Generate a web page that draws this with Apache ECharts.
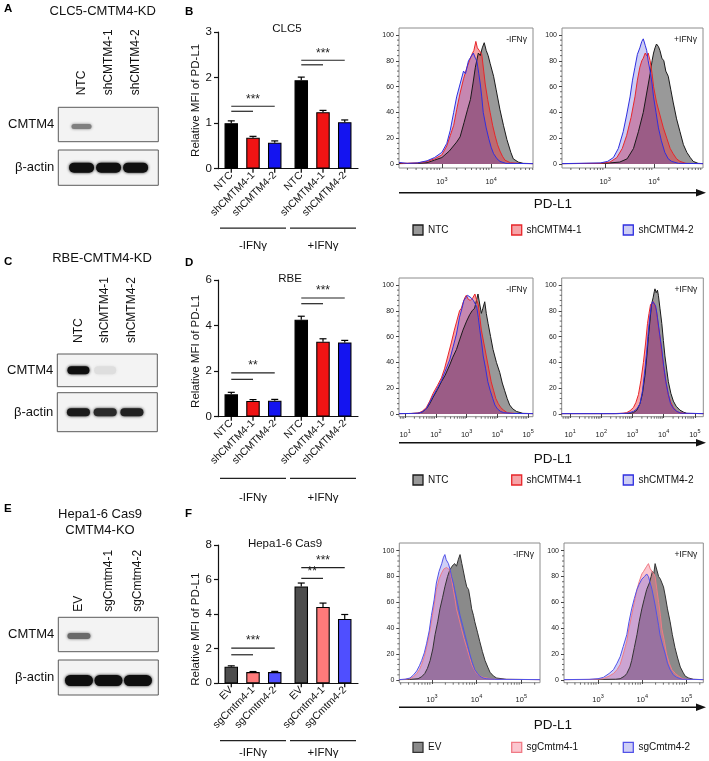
<!DOCTYPE html>
<html><head><meta charset="utf-8">
<script src="https://cdn.jsdelivr.net/npm/echarts@6/dist/echarts.min.js"></script>
<style>html,body{margin:0;padding:0;background:#fff}#c{width:709px;height:761px}</style>
</head><body><div id="c"></div>
<script>
const FONT = "'Liberation Sans', Arial, Helvetica, sans-serif";

// ---------------- DATA ----------------
const lanesKD = ['NTC', 'shCMTM4-1', 'shCMTM4-2'];
const lanesKO = ['EV', 'sgCmtm4-1', 'sgCmtm4-2'];
// western blot band intensities (0 = no band, 1 = saturated)
const blotA_CMTM4 = [0.5, 0, 0];
const blotA_actin = [1, 1, 1];
const blotC_CMTM4 = [1, 0.08, 0];
const blotC_actin = [0.95, 0.88, 0.92];
const blotE_CMTM4 = [0.6, 0, 0];
const blotE_actin = [1, 1, 1];

const conditions = ['-IFNγ', '+IFNγ'];
// bar charts: relative MFI of PD-L1 (mean, SEM) per condition
const barB_NTC = [1.00, 1.94], errB_NTC = [0.05, 0.07];
const barB_sh1 = [0.68, 1.24], errB_sh1 = [0.03, 0.04];
const barB_sh2 = [0.57, 1.02], errB_sh2 = [0.04, 0.05];
const barD_NTC = [0.98, 4.26], errD_NTC = [0.09, 0.15];
const barD_sh1 = [0.69, 3.29], errD_sh1 = [0.06, 0.13];
const barD_sh2 = [0.70, 3.26], errD_sh2 = [0.06, 0.09];
const barF_EV  = [0.96, 5.60], errF_EV  = [0.05, 0.20];
const barF_sg1 = [0.65, 4.42], errF_sg1 = [0.03, 0.22];
const barF_sg2 = [0.65, 3.72], errF_sg2 = [0.04, 0.26];
// significance brackets: [condition, fromBar, toBar, height, text]
const sigB = [[0, 0, 2, 1.37, '***'], [0, 0, 1, 1.26, ''], [1, 0, 2, 2.38, '***'], [1, 0, 1, 2.28, '']];
const sigD = [[0, 0, 2, 1.92, '**'], [0, 0, 1, 1.64, ''], [1, 0, 2, 5.21, '***'], [1, 0, 1, 4.96, '']];
const sigF = [[0, 0, 2, 2.04, '***'], [0, 0, 1, 1.65, ''], [1, 0, 2, 6.69, '***'], [1, 0, 1, 6.07, '**']];

// flow histograms: [log10(PD-L1 intensity), % of max]
const histY_ticks = [0, 20, 40, 60, 80, 100];
const hB_neg_NTC = [[2.13,0.3],[2.5,0.5],[2.7,1],[2.85,3],[3.0,5],[3.15,10],[3.3,17],[3.37,21],[3.45,32],[3.52,42],[3.58,50],[3.63,62],[3.68,75],[3.74,86],[3.78,84],[3.82,90],[3.86,94],[3.9,88],[3.94,84],[3.98,78],[4.05,68],[4.1,58],[4.18,42],[4.25,30],[4.32,19],[4.4,9],[4.45,4],[4.55,1.5],[4.65,0.5],[4.85,0.3]];
const hB_neg_sh1 = [[2.13,1],[2.2,0.5],[2.5,0.8],[2.7,2],[2.85,4],[3.0,7],[3.1,14],[3.17,22],[3.24,30],[3.3,42],[3.37,55],[3.44,66],[3.51,75],[3.56,80],[3.61,85],[3.65,88],[3.69,95],[3.72,90],[3.76,88],[3.81,85],[3.85,72],[3.88,62],[3.93,50],[3.98,40],[4.03,30],[4.08,22],[4.13,15],[4.18,10],[4.23,6],[4.28,3],[4.39,1],[4.6,0.4],[4.85,0.3]];
const hB_neg_sh2 = [[2.13,1.2],[2.3,0.5],[2.5,0.8],[2.7,2.5],[2.85,5],[3.0,9],[3.1,16],[3.17,26],[3.24,40],[3.3,52],[3.37,62],[3.44,72],[3.48,70],[3.54,80],[3.59,83],[3.64,86],[3.68,82],[3.71,80],[3.75,70],[3.78,62],[3.81,52],[3.84,40],[3.9,28],[3.95,20],[4.0,13],[4.05,8],[4.12,4],[4.18,2],[4.3,0.5],[4.85,0.3]];
const hB_pos_NTC = [[2.12,0.3],[3.0,0.5],[3.3,1.5],[3.45,4],[3.58,12],[3.68,25],[3.78,40],[3.85,55],[3.92,70],[3.96,80],[3.99,86],[4.02,90],[4.05,93],[4.09,91],[4.12,88],[4.16,82],[4.2,80],[4.24,72],[4.29,68],[4.34,58],[4.39,48],[4.46,35],[4.53,25],[4.6,15],[4.67,9],[4.74,5],[4.8,2],[4.9,0.5],[5.0,0.3]];
const hB_pos_sh1 = [[2.12,0.3],[2.9,0.5],[3.1,1.5],[3.24,5],[3.35,12],[3.44,22],[3.53,36],[3.61,52],[3.66,65],[3.71,75],[3.75,80],[3.78,82],[3.82,86],[3.85,84],[3.88,86],[3.92,80],[3.96,70],[3.99,60],[4.05,48],[4.12,38],[4.19,28],[4.26,20],[4.33,12],[4.39,8],[4.46,4],[4.53,2],[4.65,0.5],[5.0,0.3]];
const hB_pos_sh2 = [[2.12,0.3],[2.9,0.8],[3.05,2],[3.17,5],[3.27,12],[3.37,25],[3.44,38],[3.51,52],[3.56,65],[3.61,75],[3.66,85],[3.71,90],[3.75,95],[3.78,97],[3.82,92],[3.85,88],[3.88,80],[3.92,72],[3.96,62],[3.99,52],[4.04,40],[4.09,28],[4.15,18],[4.22,9],[4.29,4],[4.36,2],[4.5,0.5],[5.0,0.3]];
const hD_neg_NTC = [[0.8,0.3],[1.2,0.4],[1.42,0.6],[1.55,1.5],[1.69,4],[1.8,8],[1.91,13],[2.05,19],[2.18,25],[2.3,30],[2.45,38],[2.55,44],[2.67,50],[2.78,58],[2.88,65],[3.0,72],[3.1,77],[3.18,80],[3.26,82],[3.32,88],[3.37,93],[3.42,86],[3.48,78],[3.53,82],[3.59,87],[3.64,78],[3.7,70],[3.78,60],[3.86,50],[3.97,40],[4.08,32],[4.16,24],[4.24,18],[4.32,12],[4.4,7],[4.5,4],[4.62,2],[4.83,0.5],[5.16,0.3]];
const hD_neg_sh1 = [[0.8,0.3],[1.2,0.4],[1.42,0.7],[1.55,2],[1.69,5],[1.8,10],[1.91,16],[2.05,22],[2.18,28],[2.28,35],[2.39,45],[2.5,55],[2.6,65],[2.68,72],[2.77,80],[2.83,82],[2.88,86],[2.94,90],[2.99,92],[3.05,89],[3.12,88],[3.2,90],[3.27,93],[3.33,88],[3.38,85],[3.43,75],[3.48,65],[3.56,55],[3.64,45],[3.72,35],[3.8,25],[3.88,18],[3.95,12],[4.03,8],[4.11,5],[4.2,3],[4.32,1],[4.6,0.4],[5.16,0.3]];
const hD_neg_sh2 = [[0.8,0.3],[1.2,0.4],[1.42,0.6],[1.55,1.5],[1.69,4],[1.8,9],[1.91,14],[2.05,20],[2.18,26],[2.3,33],[2.45,42],[2.56,52],[2.67,62],[2.77,75],[2.85,82],[2.91,88],[2.97,90],[3.03,92],[3.07,91],[3.15,90],[3.22,88],[3.28,87],[3.33,83],[3.38,75],[3.43,65],[3.49,55],[3.54,45],[3.62,35],[3.69,25],[3.77,18],[3.85,12],[3.92,7],[4.0,4],[4.1,2],[4.21,1],[4.5,0.4],[5.16,0.3]];
const hD_pos_NTC = [[0.73,0.3],[2.5,0.3],[2.9,0.5],[3.03,1],[3.14,3],[3.24,8],[3.32,16],[3.4,30],[3.46,45],[3.51,60],[3.56,72],[3.61,85],[3.66,90],[3.7,95],[3.72,97],[3.76,94],[3.8,96],[3.83,92],[3.88,82],[3.94,70],[3.99,57],[4.04,45],[4.1,34],[4.15,25],[4.23,16],[4.31,10],[4.4,6],[4.52,3],[4.63,1.5],[4.74,0.5],[5.27,0.3]];
const hD_pos_sh1 = [[0.73,0.3],[2.4,0.3],[2.7,0.6],[2.81,1],[2.92,2.5],[3.03,5],[3.11,9],[3.19,15],[3.27,26],[3.35,40],[3.42,55],[3.48,70],[3.53,78],[3.58,85],[3.62,86],[3.67,87],[3.72,84],[3.77,80],[3.82,70],[3.88,60],[3.94,47],[4.01,35],[4.08,24],[4.15,15],[4.23,9],[4.31,5],[4.42,2],[4.52,1],[4.7,0.4],[5.27,0.3]];
const hD_pos_sh2 = [[0.73,0.3],[2.5,0.3],[2.85,0.6],[3.03,2],[3.14,4],[3.24,8],[3.32,18],[3.4,35],[3.46,50],[3.51,65],[3.56,76],[3.61,85],[3.65,87],[3.69,88],[3.74,84],[3.8,75],[3.87,62],[3.94,50],[4.0,37],[4.07,25],[4.15,15],[4.22,8],[4.32,4],[4.42,2],[4.55,0.6],[5.27,0.3]];
const hF_neg_EV  = [[2.27,0.3],[2.5,0.4],[2.69,1],[2.77,2.5],[2.84,5],[2.9,9],[2.96,15],[3.02,24],[3.07,35],[3.13,45],[3.18,55],[3.24,64],[3.29,72],[3.35,80],[3.4,85],[3.45,88],[3.51,90],[3.55,88],[3.59,93],[3.63,97],[3.67,90],[3.7,85],[3.74,78],[3.78,72],[3.82,70],[3.86,62],[3.89,55],[3.93,50],[3.96,45],[4.02,37],[4.07,30],[4.13,22],[4.19,15],[4.25,10],[4.3,6],[4.38,3],[4.45,1.5],[4.67,0.5],[5.42,0.3]];
const hF_neg_sg1 = [[2.27,0.3],[2.4,0.5],[2.51,1],[2.59,2.5],[2.66,5],[2.72,8],[2.77,12],[2.83,18],[2.88,25],[2.94,35],[2.99,45],[3.05,58],[3.1,70],[3.16,78],[3.22,83],[3.27,86],[3.33,87],[3.37,86],[3.4,85],[3.44,78],[3.48,70],[3.52,62],[3.55,55],[3.61,47],[3.66,40],[3.72,32],[3.78,25],[3.84,18],[3.89,12],[3.95,8],[4.0,5],[4.08,3],[4.15,2],[4.37,0.5],[5.42,0.3]];
const hF_neg_sg2 = [[2.27,0.3],[2.4,0.6],[2.51,1.5],[2.59,4],[2.66,7],[2.72,11],[2.77,15],[2.83,21],[2.88,28],[2.94,38],[2.99,50],[3.05,62],[3.1,75],[3.16,84],[3.22,90],[3.26,95],[3.29,97],[3.32,93],[3.35,92],[3.37,90],[3.41,85],[3.44,80],[3.48,75],[3.51,70],[3.57,60],[3.63,50],[3.69,42],[3.74,35],[3.8,27],[3.85,20],[3.9,14],[3.96,8],[4.02,5],[4.07,3],[4.15,1.5],[4.22,1],[4.4,0.5],[5.42,0.3]];
const hF_pos_EV  = [[2.23,0.3],[3.0,0.4],[3.4,0.6],[3.5,1],[3.6,3],[3.65,5],[3.72,10],[3.76,15],[3.82,25],[3.88,35],[3.93,45],[3.99,55],[4.04,62],[4.1,70],[4.16,75],[4.2,80],[4.23,84],[4.26,82],[4.29,90],[4.33,85],[4.37,80],[4.41,78],[4.44,78],[4.48,72],[4.52,65],[4.57,55],[4.63,45],[4.68,35],[4.74,25],[4.8,17],[4.86,10],[4.92,6],[4.97,3],[5.05,1.5],[5.16,0.5],[5.38,0.3]];
const hF_pos_sg1 = [[2.23,0.3],[2.8,0.4],[3.0,0.6],[3.12,1],[3.25,3],[3.35,5],[3.43,8],[3.5,12],[3.57,20],[3.65,30],[3.7,40],[3.76,50],[3.82,60],[3.88,70],[3.93,76],[3.99,82],[4.03,84],[4.06,85],[4.1,88],[4.14,90],[4.18,86],[4.22,85],[4.26,82],[4.29,80],[4.33,70],[4.37,60],[4.41,50],[4.44,40],[4.5,30],[4.55,20],[4.61,13],[4.67,8],[4.75,5],[4.82,3],[4.9,1.2],[5.0,0.5],[5.38,0.3]];
const hF_pos_sg2 = [[2.23,0.3],[2.8,0.5],[3.0,1],[3.12,2],[3.25,5],[3.35,8],[3.43,13],[3.5,18],[3.57,26],[3.65,35],[3.7,45],[3.76,55],[3.82,63],[3.88,70],[3.93,74],[3.99,78],[4.05,80],[4.1,82],[4.14,80],[4.18,75],[4.22,70],[4.25,65],[4.29,58],[4.33,50],[4.37,42],[4.4,35],[4.46,27],[4.52,20],[4.57,13],[4.63,8],[4.7,4],[4.78,2],[4.9,0.6],[5.38,0.3]];

// ---------------- BUILD ----------------
const grids = [], xAxes = [], yAxes = [], series = [], graphics = [];
function addGrid(g, x, y) {
  const i = grids.length;
  grids.push(g);
  xAxes.push(Object.assign({gridIndex: i}, x));
  yAxes.push(Object.assign({gridIndex: i}, y));
  return i;
}
function txt(x, y, text, o) {
  graphics.push({type: 'text', x: x, y: y, silent: true, style: Object.assign({text: text, fill: '#111', fontSize: 12, fontFamily: FONT, align: 'center', verticalAlign: 'middle'}, o || {})});
}

// ---- Western blots ----
function blot(b) {
  b.rows.forEach((row, ri) => {
    const gi = addGrid({left: b.left, top: row.top, width: b.width, height: row.height, show: true, borderColor: '#5a5a5a', borderWidth: 1, backgroundColor: '#f3f3f3'},
      {type: 'value', min: b.min, max: b.max, show: false},
      {type: 'category', data: [row.name], axisLine: {show: false}, axisTick: {show: false}, axisLabel: {fontSize: 13, color: '#111', margin: 4, fontFamily: FONT}});
    series.push({type: 'custom', xAxisIndex: gi, yAxisIndex: gi, silent: true,
      data: row.values.map((v, i) => [i, 0, v]),
      renderItem: (params, api) => {
        const lane = api.value(0), v = api.value(2);
        const p = api.coord([lane, 0]);
        const kids = [];
        if (v > 0) {
          const g = Math.round(240 - 225 * v);
          const col = 'rgb(' + g + ',' + g + ',' + g + ')';
          kids.push({type: 'rect', shape: {x: p[0] - row.bw / 2, y: p[1] - row.bh / 2 + (row.dy || 0), width: row.bw, height: row.bh, r: row.bh / 2},
            style: {fill: col, shadowBlur: 3, shadowColor: col}});
        }
        if (ri === 0) {
          kids.push({type: 'text', x: p[0], y: row.top - b.labelGap, rotation: Math.PI / 2,
            style: {text: b.lanes[lane], fill: '#111', fontSize: 12, fontFamily: FONT, align: 'left', verticalAlign: 'middle'}});
        }
        return {type: 'group', children: kids};
      }});
  });
}
blot({left: 58.3, width: 100, min: -0.86, max: 2.84, lanes: lanesKD, labelGap: 12,
  rows: [{name: 'CMTM4', top: 107.3, height: 34.4, values: blotA_CMTM4, bw: 20, bh: 5, dy: 2},
         {name: 'β-actin', top: 150, height: 35.3, values: blotA_actin, bw: 25, bh: 10}]});
blot({left: 57.3, width: 100, min: -0.79, max: 2.95, lanes: lanesKD, labelGap: 11,
  rows: [{name: 'CMTM4', top: 354, height: 32.7, values: blotC_CMTM4, bw: 22, bh: 8},
         {name: 'β-actin', top: 392.7, height: 39, values: blotC_actin, bw: 23, bh: 8}]});
blot({left: 58.3, width: 100, min: -0.70, max: 2.69, lanes: lanesKO, labelGap: 5.5,
  rows: [{name: 'CMTM4', top: 617.3, height: 34.4, values: blotE_CMTM4, bw: 23, bh: 6, dy: 1.5},
         {name: 'β-actin', top: 660, height: 35, values: blotE_actin, bw: 28, bh: 11, dy: 3}]});

// ---- Bar charts ----
const BW = 13.5, BGAP = 0.61, BOFF = BW * (1 + BGAP);
function barChart(c) {
  const gi = addGrid({left: 218, top: c.top, width: 140, height: c.height},
    {type: 'category', data: conditions, axisLine: {show: true, lineStyle: {color: '#111', width: 1.2}}, axisTick: {show: false}, axisLabel: {show: false}, splitLine: {show: false}},
    {type: 'value', min: 0, max: c.max, interval: c.interval, name: 'Relative MFI of PD-L1', nameLocation: 'middle', nameGap: 15, nameRotate: 90,
      nameTextStyle: {fontSize: 11.5, color: '#111', fontFamily: FONT, padding: c.namePad || 0},
      axisLine: {show: true, lineStyle: {color: '#111', width: 1.2}}, axisTick: {show: true, length: 4, lineStyle: {color: '#111', width: 1.2}},
      axisLabel: {fontSize: 11.5, color: '#111', margin: 6, fontFamily: FONT}, splitLine: {show: false}});
  c.groups.forEach((s) => {
    series.push({type: 'bar', name: s.name, xAxisIndex: gi, yAxisIndex: gi, data: s.values, barWidth: BW, barGap: (BGAP * 100) + '%', silent: true,
      itemStyle: {color: s.color, borderColor: '#000', borderWidth: 1.1},
      label: {show: true, position: 'bottom', distance: 5, rotate: 45, align: 'right', verticalAlign: 'middle', formatter: '{a}', fontSize: 10.5, color: '#111', fontFamily: FONT}});
  });
  const errData = [];
  c.groups.forEach((s, k) => s.values.forEach((v, ci) => errData.push([ci, v, k, s.err[ci]])));
  series.push({type: 'custom', xAxisIndex: gi, yAxisIndex: gi, silent: true, z: 5, data: errData,
    renderItem: (params, api) => {
      const d = errData[params.dataIndex];
      const base = api.coord([d[0], 0]);
      const x = base[0] + (d[2] - 1) * BOFF;
      const yv = api.coord([d[0], d[1]])[1], ye = api.coord([d[0], d[1] + d[3]])[1];
      const st = {stroke: '#000', lineWidth: 1.2};
      return {type: 'group', children: [
        {type: 'line', shape: {x1: x, y1: yv, x2: x, y2: ye}, style: st},
        {type: 'line', shape: {x1: x - 3.5, y1: ye, x2: x + 3.5, y2: ye}, style: st},
        {type: 'line', shape: {x1: x, y1: base[1], x2: x, y2: base[1] + 4}, style: st}]};
    }});
  series.push({type: 'custom', xAxisIndex: gi, yAxisIndex: gi, silent: true, z: 5, data: c.sig.map(s => [s[0], s[3]]),
    renderItem: (params, api) => {
      const s = c.sig[params.dataIndex];
      const p = api.coord([s[0], s[3]]);
      const x1 = p[0] + (s[1] - 1) * BOFF, x2 = p[0] + (s[2] - 1) * BOFF;
      const kids = [{type: 'line', shape: {x1: x1, y1: p[1], x2: x2, y2: p[1]}, style: {stroke: '#222', lineWidth: 1.2}}];
      if (s[4]) kids.push({type: 'text', x: (x1 + x2) / 2, y: p[1] - 1, style: {text: s[4], fill: '#222', fontSize: 12, fontFamily: FONT, align: 'center', verticalAlign: 'bottom'}});
      return {type: 'group', children: kids};
    }});
  series.push({type: 'custom', xAxisIndex: gi, yAxisIndex: gi, silent: true, data: conditions.map((n, i) => [i, 0]),
    renderItem: (params, api) => {
      const i = params.dataIndex;
      const p = api.coord([i, 0]);
      const w = api.size([1, 0])[0];
      return {type: 'group', children: [
        {type: 'line', shape: {x1: p[0] - w / 2 + 2, y1: p[1] + c.lineOff, x2: p[0] + w / 2 - 2, y2: p[1] + c.lineOff}, style: {stroke: '#222', lineWidth: 1.2}},
        {type: 'text', x: p[0], y: p[1] + c.labelOff, style: {text: conditions[i], fill: '#111', fontSize: 11.5, fontFamily: FONT, align: 'center', verticalAlign: 'middle'}}]};
    }});
}
barChart({top: 32, height: 136.7, max: 3, interval: 1, lineOff: 59.5, labelOff: 77.5, sig: sigB,
  groups: [{name: 'NTC', values: barB_NTC, err: errB_NTC, color: '#000000'},
           {name: 'shCMTM4-1', values: barB_sh1, err: errB_sh1, color: '#f01414'},
           {name: 'shCMTM4-2', values: barB_sh2, err: errB_sh2, color: '#1414f0'}]});
barChart({top: 280, height: 136.7, max: 6, interval: 2, lineOff: 61.6, labelOff: 81.3, sig: sigD, namePad: [0, 6, 0, 0],
  groups: [{name: 'NTC', values: barD_NTC, err: errD_NTC, color: '#000000'},
           {name: 'shCMTM4-1', values: barD_sh1, err: errD_sh1, color: '#f01414'},
           {name: 'shCMTM4-2', values: barD_sh2, err: errD_sh2, color: '#1414f0'}]});
barChart({top: 545, height: 138.3, max: 8, interval: 2, lineOff: 57.4, labelOff: 70, sig: sigF, namePad: [0, 30, 0, 0],
  groups: [{name: 'EV', values: barF_EV, err: errF_EV, color: '#4d4d4d'},
           {name: 'sgCmtm4-1', values: barF_sg1, err: errF_sg1, color: '#ff7a7a'},
           {name: 'sgCmtm4-2', values: barF_sg2, err: errF_sg2, color: '#4f4fff'}]});

// ---- Flow histograms ----
function hist(h) {
  const gi = addGrid({left: h.left, top: h.top, width: h.width, height: h.height, show: true, borderColor: '#8c8c8c', borderWidth: 1},
    {type: 'value', min: h.xmin, max: h.xmax, splitLine: {show: false}, axisLine: {show: false},
      axisTick: {show: true, customValues: h.xt, length: 4, lineStyle: {color: '#444'}},
      axisLabel: {show: true, customValues: h.xt, margin: h.lm, formatter: v => '{b|10}{s|' + v + '}',
        rich: {b: {fontSize: 7.5, color: '#222', fontFamily: FONT}, s: {fontSize: 5.5, color: '#222', fontFamily: FONT, padding: [0, 0, 6, 0]}}}},
    {type: 'value', min: h.ymin, max: h.ymax, splitLine: {show: false}, axisLine: {show: false},
      axisTick: {show: true, customValues: histY_ticks, length: 3, lineStyle: {color: '#444'}},
      axisLabel: {customValues: histY_ticks, fontSize: 7, color: '#222', margin: 5, fontFamily: FONT}});
  h.curves.forEach(cv => series.push({type: 'line', xAxisIndex: gi, yAxisIndex: gi, data: cv.data, showSymbol: false, symbol: 'none', silent: true,
    lineStyle: {color: cv.line, width: 1}, areaStyle: {color: cv.area, opacity: 1}}));
  series.push({type: 'custom', xAxisIndex: gi, yAxisIndex: gi, silent: true, data: [[h.xmin, 0]],
    renderItem: (params, api) => {
      const kids = [], st = {stroke: '#444', lineWidth: 0.8};
      const yb = api.coord([h.xmin, h.ymin])[1];
      for (let n = Math.floor(h.xmin); n <= Math.ceil(h.xmax); n++) {
        for (let k = 2; k <= 9; k++) {
          const e = n + Math.log10(k);
          if (e <= h.xmin || e >= h.xmax) continue;
          const x = api.coord([e, 0])[0];
          kids.push({type: 'line', shape: {x1: x, y1: yb, x2: x, y2: yb + 2}, style: st});
        }
      }
      const xl = api.coord([h.xmin, 0])[0];
      for (let v = 4; v < 100; v += 4) {
        if (v % 20 === 0) continue;
        const y = api.coord([h.xmin, v])[1];
        kids.push({type: 'line', shape: {x1: xl - 2, y1: y, x2: xl, y2: y}, style: st});
      }
      return {type: 'group', children: kids};
    }});
  txt(h.left + h.width - 6, h.top + 12, h.tag, {fontSize: 8.5, align: 'right'});
}
const colKD = {ntcL: '#1a1a1a', ntcA: '#999999', s1L: '#e8262a', s1A: 'rgba(235,50,60,0.45)', s2L: '#2f2fe0', s2A: 'rgba(45,45,210,0.24)'};
const colKO = {ntcL: '#333333', ntcA: '#8a8a8a', s1L: '#f07a85', s1A: 'rgba(245,120,140,0.42)', s2L: '#5252e8', s2A: 'rgba(70,70,220,0.26)'};
function curves(a, b, c, col) {
  return [{data: a, line: col.ntcL, area: col.ntcA}, {data: b, line: col.s1L, area: col.s1A}, {data: c, line: col.s2L, area: col.s2A}];
}
hist({left: 399, top: 28, width: 134, height: 140, xmin: 2.13, xmax: 4.85, ymin: -3.1, ymax: 105.4, xt: [3, 4], lm: 8, tag: '-IFNγ', curves: curves(hB_neg_NTC, hB_neg_sh1, hB_neg_sh2, colKD)});
hist({left: 562, top: 28, width: 141, height: 140, xmin: 2.12, xmax: 5.0, ymin: -3.1, ymax: 105.4, xt: [3, 4], lm: 8, tag: '+IFNγ', curves: curves(hB_pos_NTC, hB_pos_sh1, hB_pos_sh2, colKD)});
hist({left: 399, top: 278, width: 134, height: 138.7, xmin: 0.8, xmax: 5.16, ymin: -2.1, ymax: 105.4, xt: [1, 2, 3, 4, 5], lm: 12, tag: '-IFNγ', curves: curves(hD_neg_NTC, hD_neg_sh1, hD_neg_sh2, colKD)});
hist({left: 561.7, top: 278, width: 141.6, height: 138.7, xmin: 0.73, xmax: 5.27, ymin: -2.1, ymax: 105.4, xt: [1, 2, 3, 4, 5], lm: 12, tag: '+IFNγ', curves: curves(hD_pos_NTC, hD_pos_sh1, hD_pos_sh2, colKD)});
hist({left: 399.3, top: 543, width: 140.7, height: 139.7, xmin: 2.27, xmax: 5.42, ymin: -2.1, ymax: 105.95, xt: [3, 4, 5], lm: 11, tag: '-IFNγ', curves: curves(hF_neg_EV, hF_neg_sg1, hF_neg_sg2, colKO)});
hist({left: 564, top: 543, width: 139.3, height: 139.7, xmin: 2.23, xmax: 5.38, ymin: -2.1, ymax: 105.95, xt: [3, 4, 5], lm: 11, tag: '+IFNγ', curves: curves(hF_pos_EV, hF_pos_sg1, hF_pos_sg2, colKO)});

// arrows, PD-L1 labels and legends
function arrowRow(y, labelY, legY, names, col) {
  graphics.push({type: 'line', silent: true, shape: {x1: 399, y1: y, x2: 698, y2: y}, style: {stroke: '#111', lineWidth: 1.5}});
  graphics.push({type: 'polygon', silent: true, shape: {points: [[706, y], [696, y - 3.8], [696, y + 3.8]]}, style: {fill: '#111'}});
  txt(553, labelY, 'PD-L1', {fontSize: 13.5});
  const xs = [[413, 428], [511.7, 526.5], [623.3, 638.5]];
  const fills = [col.ntcA, col.s1A, col.s2A], strokes = [col.ntcL, col.s1L, col.s2L];
  names.forEach((n, i) => {
    graphics.push({type: 'rect', silent: true, shape: {x: xs[i][0], y: legY - 5, width: 10, height: 10}, style: {fill: fills[i], stroke: strokes[i], lineWidth: 1.3}});
    txt(xs[i][1], legY, n, {fontSize: 10, align: 'left'});
  });
}
arrowRow(192.7, 204, 230, lanesKD, colKD);
arrowRow(442.7, 459, 480, lanesKD, colKD);
arrowRow(707.3, 725, 747.3, lanesKO, colKO);

// panel letters & titles
[['A', 4, 9], ['B', 185, 12], ['C', 4, 262], ['D', 185, 262.5], ['E', 4, 509], ['F', 185, 514]].forEach(l => txt(l[1], l[2], l[0], {fontSize: 11.5, fontWeight: 'bold', align: 'left', fill: '#000'}));
txt(102.7, 11.7, 'CLC5-CMTM4-KD', {fontSize: 13});
txt(102, 258.3, 'RBE-CMTM4-KD', {fontSize: 13});
txt(100, 514, 'Hepa1-6 Cas9', {fontSize: 13});
txt(100, 530, 'CMTM4-KO', {fontSize: 13});
txt(287, 29, 'CLC5', {fontSize: 11.5});
txt(290, 279, 'RBE', {fontSize: 11.5});
txt(285, 544, 'Hepa1-6 Cas9', {fontSize: 11.5});

const chart = echarts.init(document.getElementById('c'), null, {renderer: 'canvas'});
chart.setOption({
  animation: false,
  backgroundColor: '#ffffff',
  textStyle: {fontFamily: FONT},
  grid: grids, xAxis: xAxes, yAxis: yAxes, series: series, graphic: graphics
});
</script></body></html>
